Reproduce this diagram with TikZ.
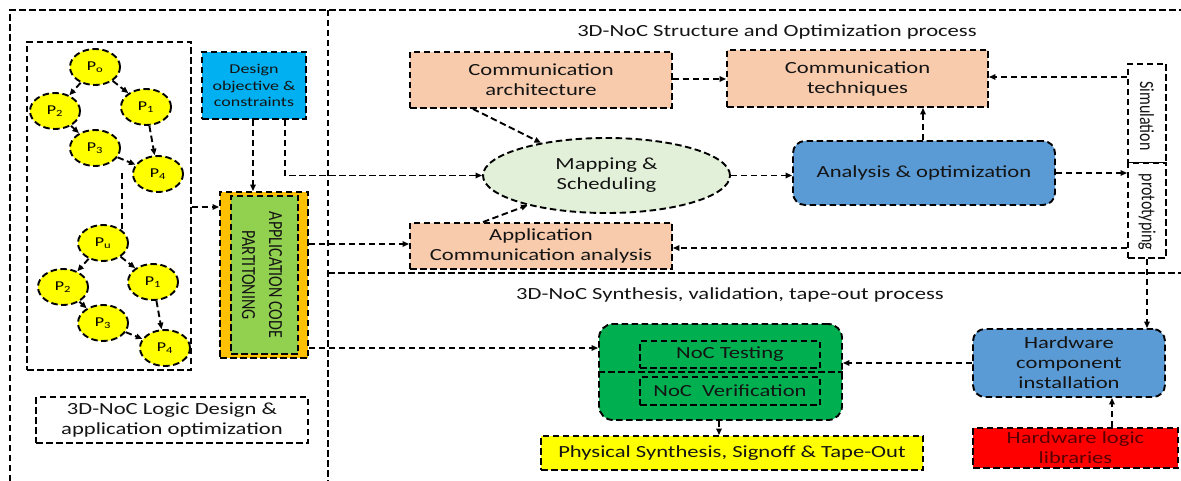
\documentclass[tikz,border=0pt]{standalone}
\usepackage{fontspec}
\setmainfont{Carlito}[FakeStretch=1.33]
\newfontfamily\rotfont{Carlito}[FakeStretch=0.8]
\usetikzlibrary{arrows.meta,shapes.geometric}
\definecolor{peach}{RGB}{248,203,173}
\definecolor{mapgreen}{RGB}{226,240,217}
\definecolor{anblue}{RGB}{91,155,213}
\definecolor{skyblue}{RGB}{0,176,240}
\definecolor{aorange}{RGB}{255,192,0}
\definecolor{agreen}{RGB}{146,208,80}
\definecolor{dgreen}{RGB}{0,176,80}
\definecolor{pyellow}{RGB}{255,255,0}
\definecolor{pred}{RGB}{255,0,0}
\definecolor{maroon}{RGB}{90,0,0}
\definecolor{txt}{RGB}{20,20,20}
\begin{document}
\begin{tikzpicture}[x=1pt,y=-1pt,
  dl/.style={line width=1.9pt,dash pattern=on 6.5pt off 3.5pt},
  arr/.style={dl,-{Triangle[length=6.5pt,width=5.5pt]}},
  bx/.style={draw,dl,rectangle,inner sep=0pt,align=center,text=txt,font=\fontsize{17}{20}\selectfont},
  rbx/.style={bx,rounded corners=12pt},
  pn/.style={draw,dl,ellipse,fill=pyellow,minimum width=50pt,minimum height=36pt,inner sep=0pt,font=\fontsize{13.5}{15}\selectfont},
  tl/.style={inner sep=0pt,text=txt,font=\fontsize{17}{20}\selectfont},
  rt/.style={inner sep=0pt,text=txt,rotate=-90,align=center,font=\rotfont\fontsize{20}{27}\selectfont},
]
\useasboundingbox (0,0) rectangle (1181,481);
% frames
\draw[dl] (10,481) -- (10,10) -- (1181,10);
\draw[dl] (328,10) -- (328,481);
\draw[dl] (328,273) -- (1181,273);

% left part
\node[bx,minimum width=164pt,minimum height=328pt] (graphbox) at (109,206) {};
\node[pn] (p0) at (95,67) {P\textsubscript{o}};
\node[pn] (p2) at (55,111) {P\textsubscript{2}};
\node[pn] (p1) at (146,107) {P\textsubscript{1}};
\node[pn] (p3) at (95,148) {P\textsubscript{3}};
\node[pn] (p4) at (158,174) {P\textsubscript{4}};
\node[pn] (q0) at (103,243) {P\textsubscript{u}};
\node[pn] (q2) at (63,287) {P\textsubscript{2}};
\node[pn] (q1) at (153,282) {P\textsubscript{1}};
\node[pn] (q3) at (103,323) {P\textsubscript{3}};
\node[pn] (q4) at (165,348) {P\textsubscript{4}};
\foreach \a/\b in {p0/p2,p0/p1,p2/p3,p1/p4,p3/p4,q0/q2,q0/q1,q2/q3,q1/q4,q3/q4}
  \draw[arr] (\a) -- (\b);
\coordinate (vl) at (122,173);
\draw[dl] (vl) -- (vl |- q0.north east);

\node[bx,fill=skyblue,minimum width=104pt,minimum height=67pt,font=\fontsize{13.5}{16.5}\selectfont] (design) at (254,85.5) {Design\\objective \&\\constraints};
\node[bx,fill=aorange,minimum width=88pt,minimum height=166pt] (appout) at (264,275) {};
\node[bx,fill=agreen,minimum width=67pt,minimum height=158pt] (appin) at (264.5,275) {};
\node[rt] (apptxt) at (262,275) {APPLICATION CODE\\PARTITONING};
\node[bx,minimum width=272pt,minimum height=46pt] (logic) at (172,420) {3D-NoC Logic Design \&\\application optimization};

\coordinate (y207) at (0,207);
\coordinate (x253) at (253,0);
\coordinate (x285) at (285,0);
\draw[arr] (graphbox.east |- y207) -- (appout.west |- y207);
\draw[arr] (design.south -| x253) -- (appout.north -| x253);

% upper right part
\node[tl] (title1) at (777,32) {3D-NoC Structure and Optimization process};
\node[bx,fill=peach,minimum width=262pt,minimum height=56pt] (commarch) at (541,80) {Communication\\architecture};
\node[bx,fill=peach,minimum width=261pt,minimum height=57pt] (commtech) at (857.5,78.5) {Communication\\techniques};
\node[draw,dl,ellipse,fill=mapgreen,minimum width=247pt,minimum height=75pt,inner sep=0pt,align=center,text=txt,font=\fontsize{17}{20}\selectfont] (map) at (606.5,175.5) {Mapping \&\\Scheduling};
\node[bx,fill=peach,minimum width=262pt,minimum height=46pt] (appcomm) at (541,246) {Application\\Communication analysis};
\node[rbx,fill=anblue,minimum width=262pt,minimum height=64pt] (analysis) at (924,173) {Analysis \& optimization};
\node[bx,fill=white,minimum width=38pt,minimum height=99pt] (sim) at (1147,113.5) {};
\node[bx,fill=white,minimum width=38pt,minimum height=95pt] (proto) at (1147,210.5) {};
\node[rt] (simt) at (1147,116) {Simulation};
\node[rt] (protot) at (1147,212) {prototyping};

\draw[arr] (design.south -| x285) |- (map.west);
\coordinate (y244) at (0,244);
\coordinate (y348) at (0,348);
\coordinate (y79) at (0,79);
\coordinate (y77) at (0,77);
\coordinate (y248) at (0,248);
\coordinate (x473) at (473,0);
\coordinate (x483) at (483,0);
\coordinate (x923) at (923,0);
\draw[arr] (commarch.east |- y79) -- (commtech.west |- y79);
\draw[arr] (commarch.south -| x473) -- (map);
\draw[arr] (appcomm.north -| x483) -- (map);
\draw[arr] (map.east) -- (map.east -| analysis.west);
\draw[arr] (analysis.north -| x923) -- (commtech.south -| x923);
\draw[arr] (analysis.east) -- (analysis.east -| proto.west);
\draw[arr] (sim.west |- y77) -- (commtech.east |- y77);
\draw[arr] (proto.west |- y248) -- (appcomm.east |- y248);
\draw[arr] (appout.east |- y244) -- (appcomm.west |- y244);

% lower right part
\node[tl] (title2) at (730,295) {3D-NoC Synthesis, validation, tape-out process};
\node[rbx,fill=dgreen,minimum width=243pt,minimum height=96pt,rounded corners=14pt] (green) at (720.5,372) {};
\draw[dl] (green.west) -- (green.east);
\node[bx,minimum width=180pt,minimum height=27pt] (noctest) at (730,354.5) {NoC Testing};
\node[bx,minimum width=180pt,minimum height=28pt] (nocver) at (730,391) {NoC\ \ Verification};
\node[bx,fill=pyellow,minimum width=382pt,minimum height=34pt] (yellow) at (732,453) {Physical Synthesis, Signoff \& Tape-Out};
\node[rbx,fill=anblue,minimum width=192pt,minimum height=68pt] (hwcomp) at (1069,363) {Hardware\\component\\installation};
\node[bx,fill=pred,text=maroon,minimum width=205pt,minimum height=40pt] (hwlib) at (1075.5,448) {Hardware logic\\libraries};

\coordinate (y363) at (0,363);
\coordinate (x719) at (719,0);
\coordinate (x1112) at (1112,0);
\draw[arr] (appout.east |- y348) -- (green.west |- y348);
\draw[arr] (proto.south) -- (hwcomp.north -| proto.south);
\draw[arr] (hwcomp.west |- y363) -- (green.east |- y363);
\draw[arr] (hwlib.north -| x1112) -- (hwcomp.south -| x1112);
\draw[arr] (green.south -| x719) -- (yellow.north -| x719);
\end{tikzpicture}
\end{document}
